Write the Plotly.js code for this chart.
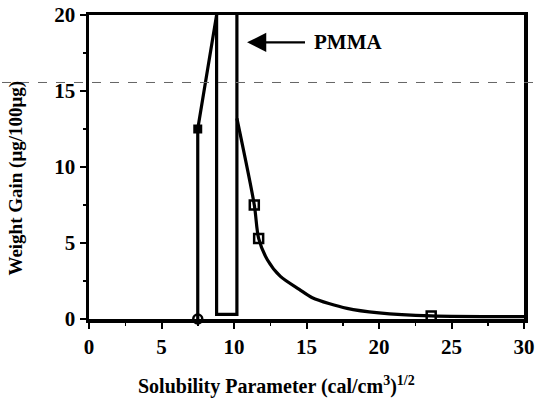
<!DOCTYPE html>
<html>
<head>
<meta charset="utf-8">
<script src="https://cdn.plot.ly/plotly-3.0.1.min.js"></script>
<style>html,body{margin:0;padding:0;background:#fff;}#chart{width:538px;height:408px;}</style>
</head>
<body>
<div id="chart"></div>
<script>
// Left branch (below PMMA)
var leftX = [7.5, 7.5, 8.8];
var leftY = [0, 12.5, 20];
// PMMA band edges
var bandX = [8.8, 8.8, 10.2, 10.2];
var bandY = [20, 0.3, 0.3, 20];
// Right branch curve
var rightX = [10.2, 11.4, 11.7, 12.3, 13.2, 14.5, 15.4, 17.8, 20.0, 23.6, 30];
var rightY = [13.2, 7.5, 5.3, 3.9, 2.8, 1.95, 1.4, 0.7, 0.4, 0.2, 0.15];
// Marked points
var circleX = [7.5];
var circleY = [0];
var filledSqX = [7.5];
var filledSqY = [12.5];
var openSqX = [11.4, 11.7, 23.6];
var openSqY = [7.5, 5.3, 0.2];
// Tick labels
var xTicks = [0, 5, 10, 15, 20, 25, 30];
var yTicks = [0, 5, 10, 15, 20];
var labelText = "PMMA";
var xTitle = 'Solubility Parameter (cal/cm<sup>3</sup>)<sup>1/2</sup>';
var yTitle = 'Weight Gain (\u03bcg/100\u03bcg)';

var serif = 'Liberation Serif';
var lineStyle = {color: '#000', width: 3.2};
var traces = [
  {x: leftX, y: leftY, mode: 'lines', line: lineStyle, hoverinfo: 'skip'},
  {x: bandX, y: bandY, mode: 'lines', line: lineStyle, hoverinfo: 'skip'},
  {x: rightX, y: rightY, mode: 'lines', line: {color: '#000', width: 3.2, shape: 'spline', smoothing: 0.8}, hoverinfo: 'skip'},
  {x: circleX, y: circleY, mode: 'markers', marker: {symbol: 'circle-open', size: 9, color: '#000', line: {width: 2.5, color: '#000'}}, cliponaxis: false},
  {x: filledSqX, y: filledSqY, mode: 'markers', marker: {symbol: 'square', size: 9, color: '#000'}},
  {x: openSqX, y: openSqY, mode: 'markers', marker: {symbol: 'square-open', size: 9, color: '#000', line: {width: 2.5, color: '#000'}}, cliponaxis: false}
];

var tickFont = {family: serif, size: 21, color: '#000', weight: 'bold'};
var layout = {
  width: 538, height: 408,
  margin: {l: 89, r: 14, t: 15, b: 89},
  paper_bgcolor: '#fff', plot_bgcolor: '#fff',
  showlegend: false,
  font: {family: serif, color: '#000'},
  xaxis: {
    range: [0, 30], tickvals: xTicks, ticktext: xTicks.map(String),
    showgrid: false, zeroline: false, showline: true, mirror: true,
    linecolor: '#000', linewidth: 3.5, ticks: 'outside', ticklen: 6, tickwidth: 2, tickcolor: '#000',
    minor: {dtick: 2.5, ticks: 'outside', ticklen: 3, tickwidth: 1.5, tickcolor: '#000'},
    tickfont: tickFont
  },
  yaxis: {
    range: [0, 20], tickvals: yTicks, ticktext: yTicks.map(String),
    showgrid: false, zeroline: false, showline: true, mirror: true,
    linecolor: '#000', linewidth: 3.5, ticks: 'outside', ticklen: 6, tickwidth: 2, tickcolor: '#000',
    minor: {dtick: 2.5, ticks: 'outside', ticklen: 3, tickwidth: 1.5, tickcolor: '#000'},
    tickfont: tickFont
  },
  annotations: [
    {x: 10.9, y: 18.2, xref: 'x', yref: 'y', ax: 15.0, ay: 18.2, axref: 'x', ayref: 'y',
     text: '', showarrow: true, arrowhead: 2, arrowsize: 1.6, arrowwidth: 2.4, arrowcolor: '#000'},
    {x: 15.4, y: 18.2, xref: 'x', yref: 'y', text: labelText, showarrow: false, xanchor: 'left', yanchor: 'middle',
     font: {family: serif, size: 21, color: '#000', weight: 'bold'}},
    {x: 0.43, y: -0.218, xref: 'paper', yref: 'paper', text: xTitle, showarrow: false,
     xanchor: 'center', yanchor: 'middle', font: {family: serif, size: 20, color: '#000', weight: 'bold'}},
    {x: -0.168, y: 0.465, xref: 'paper', yref: 'paper', text: yTitle, showarrow: false, textangle: -90,
     xanchor: 'center', yanchor: 'middle', font: {family: serif, size: 19, color: '#000', weight: 'bold'}}
  ],
  shapes: [
    {type: 'line', xref: 'paper', yref: 'paper', x0: -0.2, x1: 1.03, y0: 0.778, y1: 0.778,
     line: {color: '#666', width: 1, dash: 'dash'}}
  ]
};
Plotly.newPlot('chart', traces, layout, {staticPlot: true, displayModeBar: false});
</script>
</body>
</html>
